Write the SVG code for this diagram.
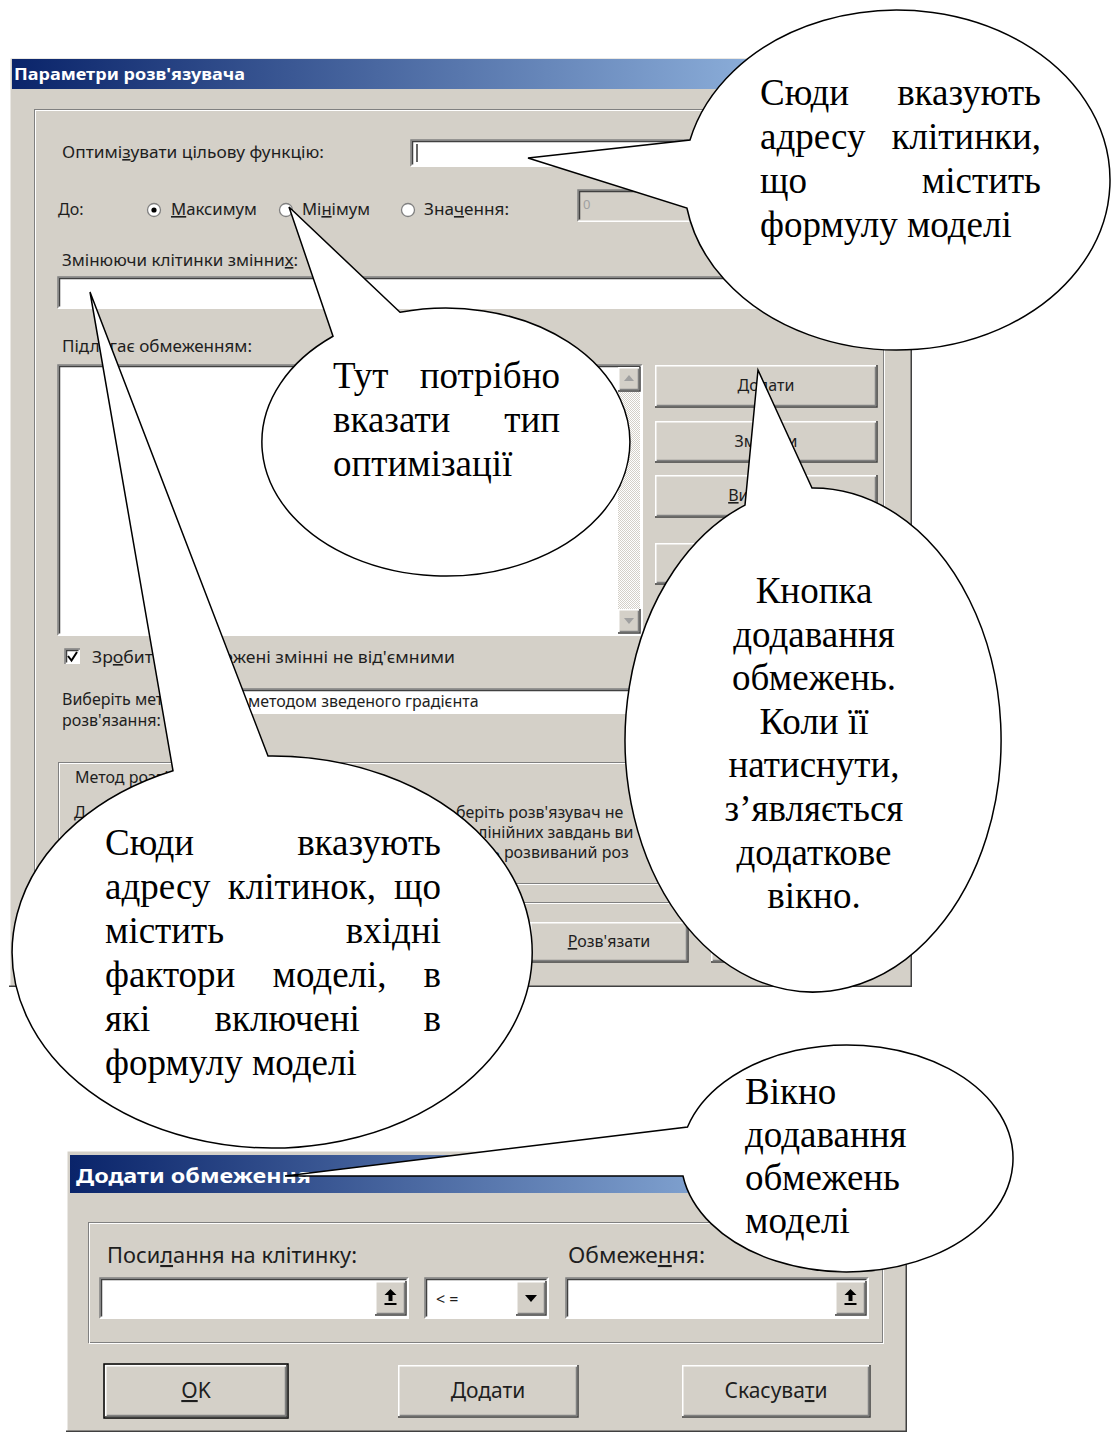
<svg xmlns="http://www.w3.org/2000/svg" width="1112" height="1434" viewBox="0 0 1112 1434">
<defs>
<linearGradient id="tbar" x1="0" y1="0" x2="1" y2="0">
<stop offset="0" stop-color="#0a246a"/>
<stop offset="1" stop-color="#a6caf0"/>
</linearGradient>
<pattern id="track" width="2" height="2" patternUnits="userSpaceOnUse">
<rect width="2" height="2" fill="#ffffff"/>
<rect width="1" height="1" fill="#d4d0c8"/>
<rect x="1" y="1" width="1" height="1" fill="#d4d0c8"/>
</pattern>
</defs>
<style>
.bg{fill:#d4d0c8}
.wh{fill:#ffffff}
.ui{font-family:"Noto Sans","DejaVu Sans",sans-serif;font-size:16px;fill:#1e1e1e}
.ui2{font-family:"Noto Sans","DejaVu Sans",sans-serif;font-size:21px;fill:#1e1e1e}
.ttl{font-family:"Noto Sans","DejaVu Sans",sans-serif;font-weight:bold;fill:#ffffff}
.u{text-decoration:underline}
.hi{fill:none;stroke:#ffffff;stroke-width:1.5}
.sh{fill:none;stroke:#808080;stroke-width:1.5}
.dk{fill:none;stroke:#404040;stroke-width:1.5}
.co{fill:#ffffff;stroke:#000000;stroke-width:1.5;stroke-linejoin:miter}
.ct{font-family:"Liberation Serif","Times New Roman",serif;font-size:37px;fill:#000000}
.mid{text-anchor:middle}
.end{text-anchor:end}
.ico{fill:#000000}
</style>

<g id="dialog-solver">
<rect x="9" y="57" width="903" height="930" class="bg"/>
<path class="hi" d="M9.75,987 V57.75 H912"/>
<path class="dk" d="M9,986.25 H911.25 V57"/>
<rect x="12" y="59" width="897" height="30" fill="url(#tbar)"/>
<text x="14" y="80" class="ttl" font-size="15.5" textLength="231" lengthAdjust="spacingAndGlyphs">Параметри розв'язувача</text>

<rect x="34.5" y="109.5" width="849" height="793" fill="none" stroke="#808080"/>
<rect x="35.5" y="110.5" width="849" height="793" fill="none" stroke="#ffffff"/>

<text x="62" y="158" class="ui" textLength="262" lengthAdjust="spacingAndGlyphs">Оптимі<tspan class="u">з</tspan>увати цільову функцію:</text>
<rect x="411" y="140" width="466" height="26" class="wh"/>
<path class="sh" d="M411,166 V140 H877"/>
<path class="dk" d="M412.5,164.5 V141.5 H875.5"/>
<path class="hi" d="M411,166.25 H877.25 V140"/>
<line x1="417" y1="144" x2="417" y2="162" stroke="#000000" stroke-width="1.2"/>

<text x="58" y="215" class="ui">До:</text>
<circle cx="154" cy="210" r="6.5" fill="#ffffff" stroke="#808080" stroke-width="1.3"/>
<circle cx="154" cy="210" r="2.6" fill="#000000"/>
<text x="171" y="215" class="ui" textLength="86" lengthAdjust="spacingAndGlyphs"><tspan class="u">М</tspan>аксимум</text>
<circle cx="286" cy="210" r="6.5" fill="#ffffff" stroke="#808080" stroke-width="1.3"/>
<text x="302" y="215" class="ui" textLength="68" lengthAdjust="spacingAndGlyphs">Мі<tspan class="u">н</tspan>імум</text>
<circle cx="408" cy="210" r="6.5" fill="#ffffff" stroke="#808080" stroke-width="1.3"/>
<text x="424" y="215" class="ui" textLength="85" lengthAdjust="spacingAndGlyphs">Зна<tspan class="u">ч</tspan>ення:</text>
<rect x="578" y="190" width="299" height="31" class="bg"/>
<path class="sh" d="M578,221 V190 H877"/>
<path class="dk" d="M579.5,219.5 V191.5 H875.5"/>
<path class="hi" d="M578,221.25 H877.25 V190"/>
<text x="583" y="209" font-family="Noto Sans, DejaVu Sans, sans-serif" font-size="13" fill="#a0a0a0">0</text>

<text x="62" y="266" class="ui" textLength="236" lengthAdjust="spacingAndGlyphs">Змінюючи клітинки змінни<tspan class="u">х</tspan>:</text>
<rect x="58" y="277" width="819" height="31" class="wh"/>
<path class="sh" d="M58,308 V277 H877"/>
<path class="dk" d="M59.5,306.5 V278.5 H875.5"/>
<path class="hi" d="M58,308.25 H877.25 V277"/>

<text x="62" y="352" class="ui" textLength="190" lengthAdjust="spacingAndGlyphs">Пі<tspan class="u">д</tspan>лягає обмеженням:</text>
<rect x="58" y="365" width="584" height="270" class="wh"/>
<path class="sh" d="M58,635 V365 H642"/>
<path class="dk" d="M59.5,633.5 V366.5 H640.5"/>
<path class="hi" d="M58,635.25 H642.25 V365"/>
<rect x="618" y="367" width="22" height="266" fill="url(#track)"/>
<rect x="618" y="367" width="22" height="24" class="bg"/>
<path class="dk" d="M618,391 H640 V367"/>
<path class="sh" d="M619.5,389.5 H638.5 V368.5"/>
<path class="hi" d="M618.75,390 V367.75 H639"/>
<path d="M629,375 L624,381 H634 Z" fill="#a0a0a0"/>
<rect x="618" y="609" width="22" height="24" class="bg"/>
<path class="dk" d="M618,633 H640 V609"/>
<path class="sh" d="M619.5,631.5 H638.5 V610.5"/>
<path class="hi" d="M618.75,632 V609.75 H639"/>
<path d="M624,618 H634 L629,624 Z" fill="#a0a0a0"/>

<rect x="655" y="365" width="222" height="42" class="bg"/>
<path class="dk" d="M655,407 H877 V365"/>
<path class="sh" d="M656.5,405.5 H875.5 V366.5"/>
<path class="hi" d="M655.75,406 V365.75 H876"/>
<text x="766" y="391" class="ui mid" font-size="15"><tspan class="u">Д</tspan>одати</text>
<rect x="655" y="421" width="222" height="41" class="bg"/>
<path class="dk" d="M655,462 H877 V421"/>
<path class="sh" d="M656.5,460.5 H875.5 V422.5"/>
<path class="hi" d="M655.75,461 V421.75 H876"/>
<text x="766" y="447" class="ui mid" font-size="15">Змінити</text>
<rect x="655" y="475" width="222" height="42" class="bg"/>
<path class="dk" d="M655,517 H877 V475"/>
<path class="sh" d="M656.5,515.5 H875.5 V476.5"/>
<path class="hi" d="M655.75,516 V475.75 H876"/>
<text x="766" y="501" class="ui mid" font-size="15"><tspan class="u">В</tspan>идалити</text>
<rect x="655" y="543" width="222" height="41" class="bg"/>
<path class="dk" d="M655,584 H877 V543"/>
<path class="sh" d="M656.5,582.5 H875.5 V544.5"/>
<path class="hi" d="M655.75,583 V543.75 H876"/>

<rect x="65" y="649" width="15" height="15" class="wh"/>
<path class="sh" d="M65,664 V649 H80"/>
<path class="dk" d="M66.5,662.5 V650.5 H78.5"/>
<path d="M68,656 L71.5,660.5 L77,652" fill="none" stroke="#000000" stroke-width="2"/>
<text x="92" y="663" class="ui" textLength="363" lengthAdjust="spacingAndGlyphs">Зр<tspan class="u">о</tspan>бити необмежені змінні не від'ємними</text>

<text x="62" y="705" class="ui">Виберіть метод</text>
<text x="62" y="726" class="ui">розв'язання:</text>
<rect x="240" y="689" width="637" height="25" class="wh"/>
<path class="sh" d="M240,714 V689 H877"/>
<path class="dk" d="M241.5,712.5 V690.5 H875.5"/>
<text x="248" y="707" class="ui">методом зведеного градієнта</text>

<rect x="58.5" y="762.5" width="819" height="121" fill="none" stroke="#808080"/>
<rect x="59.5" y="763.5" width="819" height="121" fill="none" stroke="#ffffff"/>
<text x="75" y="783" class="ui">Метод розв'язання</text>
<text x="74" y="818" class="ui">Д</text>
<text x="456" y="818" class="ui">беріть розв'язувач не</text>
<text x="478" y="838" class="ui">лінійних завдань ви</text>
<text x="491" y="858" class="ui">ь розвиваний роз</text>

<rect x="530" y="922" width="158" height="40" class="bg"/>
<path class="dk" d="M530,962 H688 V922"/>
<path class="sh" d="M531.5,960.5 H686.5 V923.5"/>
<path class="hi" d="M530.75,961 V922.75 H687"/>
<text x="609" y="947" class="ui mid" font-size="15"><tspan class="u">Р</tspan>озв'язати</text>
<rect x="711" y="922" width="158" height="40" class="bg"/>
<path class="dk" d="M711,962 H869 V922"/>
<path class="sh" d="M712.5,960.5 H867.5 V923.5"/>
<path class="hi" d="M711.75,961 V922.75 H868"/>
</g>

<g id="dialog-add-constraint">
<rect x="66" y="1150" width="841" height="282" class="bg"/>
<path class="hi" d="M66.75,1432 V1150.75 H907"/>
<path class="dk" d="M66,1431.25 H906.25 V1150"/>
<rect x="70" y="1155" width="835" height="38" fill="url(#tbar)"/>
<text x="76" y="1183" class="ttl" font-size="20" textLength="235" lengthAdjust="spacingAndGlyphs">Додати обмеження</text>

<rect x="88.5" y="1222.5" width="794" height="120" fill="none" stroke="#808080"/>
<rect x="89.5" y="1223.5" width="794" height="120" fill="none" stroke="#ffffff"/>

<text x="107" y="1263" class="ui2" textLength="250" lengthAdjust="spacingAndGlyphs">Поси<tspan class="u">л</tspan>ання на клітинку:</text>
<rect x="100" y="1278" width="308" height="40" class="wh"/>
<path class="sh" d="M100,1318 V1278 H408"/>
<path class="dk" d="M101.5,1316.5 V1279.5 H406.5"/>
<path class="hi" d="M100,1318.25 H408.25 V1278"/>
<rect x="375" y="1281" width="31" height="34" class="bg"/>
<path class="dk" d="M375,1315 H406 V1281"/>
<path class="sh" d="M376.5,1313.5 H404.5 V1282.5"/>
<path class="hi" d="M375.75,1314 V1281.75 H405"/>
<path class="ico" d="M390.5,1289 L396.5,1295 H392.5 V1301 H388.5 V1295 H384.5 Z"/>
<rect x="384.5" y="1303" width="12" height="2" class="ico"/>

<rect x="425" y="1278" width="123" height="40" class="wh"/>
<path class="sh" d="M425,1318 V1278 H548"/>
<path class="dk" d="M426.5,1316.5 V1279.5 H546.5"/>
<path class="hi" d="M425,1318.25 H548.25 V1278"/>
<text x="436" y="1305" font-family="Noto Sans, DejaVu Sans, sans-serif" font-size="16" fill="#1e1e1e">&lt; =</text>
<rect x="516" y="1281" width="30" height="34" class="bg"/>
<path class="dk" d="M516,1315 H546 V1281"/>
<path class="sh" d="M517.5,1313.5 H544.5 V1282.5"/>
<path class="hi" d="M516.75,1314 V1281.75 H545"/>
<path class="ico" d="M525,1295 H537 L531,1302 Z"/>

<text x="568" y="1263" class="ui2" textLength="137" lengthAdjust="spacingAndGlyphs">Обмеже<tspan class="u">н</tspan>ня:</text>
<rect x="566" y="1278" width="302" height="40" class="wh"/>
<path class="sh" d="M566,1318 V1278 H868"/>
<path class="dk" d="M567.5,1316.5 V1279.5 H866.5"/>
<path class="hi" d="M566,1318.25 H868.25 V1278"/>
<rect x="835" y="1281" width="31" height="34" class="bg"/>
<path class="dk" d="M835,1315 H866 V1281"/>
<path class="sh" d="M836.5,1313.5 H864.5 V1282.5"/>
<path class="hi" d="M835.75,1314 V1281.75 H865"/>
<path class="ico" d="M850.5,1289 L856.5,1295 H852.5 V1301 H848.5 V1295 H844.5 Z"/>
<rect x="844.5" y="1303" width="12" height="2" class="ico"/>

<rect x="104" y="1364" width="184" height="54" fill="none" stroke="#000000" stroke-width="1.5"/>
<rect x="105" y="1365" width="182" height="52" class="bg"/>
<path class="dk" d="M105,1417 H287 V1365"/>
<path class="sh" d="M106.5,1415.5 H285.5 V1366.5"/>
<path class="hi" d="M105.75,1416 V1365.75 H286"/>
<text x="196" y="1398" class="ui2 mid"><tspan class="u">O</tspan>K</text>

<rect x="398" y="1365" width="180" height="52" class="bg"/>
<path class="dk" d="M398,1417 H578 V1365"/>
<path class="sh" d="M399.5,1415.5 H576.5 V1366.5"/>
<path class="hi" d="M398.75,1416 V1365.75 H577"/>
<text x="488" y="1398" class="ui2 mid"><tspan class="u">Д</tspan>одати</text>

<rect x="682" y="1365" width="188" height="52" class="bg"/>
<path class="dk" d="M682,1417 H870 V1365"/>
<path class="sh" d="M683.5,1415.5 H868.5 V1366.5"/>
<path class="hi" d="M682.75,1416 V1365.75 H869"/>
<text x="776" y="1398" class="ui2 mid">Скасува<tspan class="u">т</tspan>и</text>
</g>

<g id="callout-target-cell">
<path class="co" d="M690,140 A213,170 0 1,1 686.9,208 L528,158 Z"/>
<text class="ct" x="760" y="105">Сюди</text>
<text class="ct end" x="1041" y="105">вказують</text>
<text class="ct" x="760" y="149">адресу</text>
<text class="ct end" x="1041" y="149">клітинки,</text>
<text class="ct" x="760" y="193">що</text>
<text class="ct end" x="1041" y="193">містить</text>
<text class="ct" x="760" y="237">формулу моделі</text>
</g>

<g id="callout-optimization-type">
<path class="co" d="M400,312.3 A184,134 0 1,1 333,336.25 L289,207 Z"/>
<text class="ct" x="333" y="388">Тут</text>
<text class="ct end" x="560" y="388">потрібно</text>
<text class="ct" x="333" y="432">вказати</text>
<text class="ct end" x="560" y="432">тип</text>
<text class="ct" x="333" y="476">оптимізації</text>
</g>

<g id="callout-variable-cells">
<path class="co" d="M268,756 A260,196 0 1,1 173,770.8 L90,292 Z"/>
<text class="ct" x="105" y="855">Сюди</text>
<text class="ct end" x="441" y="855">вказують</text>
<text class="ct" x="105" y="899">адресу</text>
<text class="ct" x="227.8" y="899">клітинок,</text>
<text class="ct end" x="441" y="899">що</text>
<text class="ct" x="105" y="943">містить</text>
<text class="ct end" x="441" y="943">вхідні</text>
<text class="ct" x="105" y="987">фактори</text>
<text class="ct" x="272.5" y="987">моделі,</text>
<text class="ct end" x="441" y="987">в</text>
<text class="ct" x="105" y="1031">які</text>
<text class="ct" x="214.5" y="1031">включені</text>
<text class="ct end" x="441" y="1031">в</text>
<text class="ct" x="105" y="1075">формулу моделі</text>
</g>

<g id="callout-add-button">
<path class="co" d="M812,488 A188,252 0 1,1 745,505.1 L758,370 Z"/>
<text class="ct mid" x="814" y="603">Кнопка</text>
<text class="ct mid" x="814" y="647">додавання</text>
<text class="ct mid" x="814" y="690">обмежень.</text>
<text class="ct mid" x="814" y="734">Коли її</text>
<text class="ct mid" x="814" y="777">натиснути,</text>
<text class="ct mid" x="814" y="821">з’являється</text>
<text class="ct mid" x="814" y="865">додаткове</text>
<text class="ct mid" x="814" y="908">вікно.</text>
</g>

<g id="callout-constraint-window">
<path class="co" d="M687.5,1127 A166,113.5 0 1,1 683,1176 L285,1176 Z"/>
<text class="ct" x="745" y="1104">Вікно</text>
<text class="ct" x="745" y="1147">додавання</text>
<text class="ct" x="745" y="1190">обмежень</text>
<text class="ct" x="745" y="1233">моделі</text>
</g>
</svg>
